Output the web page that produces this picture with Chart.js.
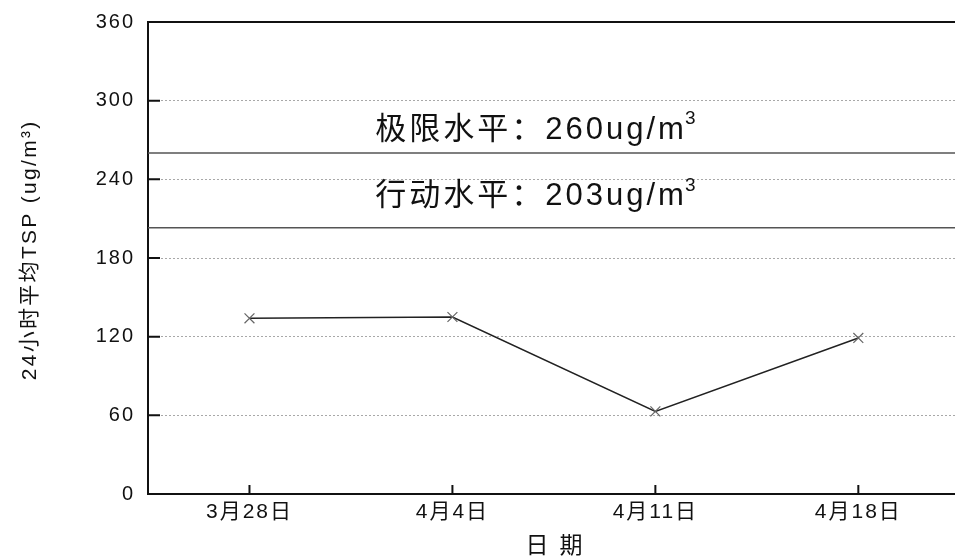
<!DOCTYPE html>
<html>
<head>
<meta charset="utf-8">
<script src="https://cdn.jsdelivr.net/npm/chart.js@4/dist/chart.umd.min.js"></script>
<style>
  html, body { margin: 0; padding: 0; overflow: hidden; background: #fff; }
  #wrap { width: 968px; height: 559px; }
</style>
</head>
<body>
<div id="wrap"><canvas id="tsp-chart"></canvas></div>
<script>
// 数据
const dates = ['3月28日', '4月4日', '4月11日', '4月18日'];
const tspValues = [134, 135, 63, 119];
const yTicks = [0, 60, 120, 180, 240, 300, 360];
const limitLevels = [260, 203];
const limitLabels = ['极限水平：260ug/m³', '行动水平：203ug/m³'];
const xTitle = '日期';
const yTitle = '24小时平均TSP (ug/m³)';

const FONT = '"Liberation Sans", "Noto Sans CJK SC", sans-serif';
const labelLift = [23, 31]; // 文字在限值线上方的距离

// 边框、向内刻度、限值线、坐标轴标题
const framePlugin = {
    id: 'frame',
    beforeDraw(chart) {
        chart.ctx.letterSpacing = '2px';
    },
    beforeDatasetsDraw(chart) {
        const { ctx, chartArea, scales } = chart;
        ctx.save();
        ctx.strokeStyle = '#555';
        ctx.lineWidth = 1.5;
        ctx.fillStyle = '#111';
        ctx.textBaseline = 'middle';
        ctx.textAlign = 'left';
        limitLevels.forEach((level, i) => {
            const y = scales.y.getPixelForValue(level);
            ctx.beginPath();
            ctx.moveTo(chartArea.left, y);
            ctx.lineTo(chartArea.right, y);
            ctx.stroke();

            // 文字，末尾的 ³ 画成上标
            let text = limitLabels[i];
            let sup = '';
            if (text.endsWith('³')) {
                text = text.slice(0, -1);
                sup = '3';
            }
            const x = chartArea.left + chartArea.width * 0.28;
            const ty = y - labelLift[i];
            ctx.letterSpacing = '3px';
            ctx.font = '31px ' + FONT;
            ctx.fillText(text, x, ty);
            const w = ctx.measureText(text).width;
            if (sup) {
                ctx.font = '19px ' + FONT;
                ctx.fillText(sup, x + w - 2, ty - 11);
            }
        });

        // x 轴标题
        ctx.letterSpacing = '11px';
        ctx.font = '23px ' + FONT;
        const tw = ctx.measureText(xTitle).width - 11;
        ctx.fillText(xTitle, (chartArea.left + chartArea.right) / 2 - tw / 2, chartArea.bottom + 53);

        // y 轴标题（竖排旋转）
        ctx.letterSpacing = '2.3px';
        ctx.font = '21px ' + FONT;
        const yw = ctx.measureText(yTitle).width - 2.3;
        ctx.translate(chartArea.left - 118, (chartArea.top + chartArea.bottom) / 2 - 7);
        ctx.rotate(-Math.PI / 2);
        ctx.fillText(yTitle, -yw / 2, 0);
        ctx.restore();
    },
    afterDraw(chart) {
        const { ctx, chartArea, scales } = chart;
        ctx.save();
        ctx.strokeStyle = '#111';
        ctx.lineWidth = 2;
        ctx.beginPath();
        ctx.moveTo(chartArea.left - 1, chartArea.top);
        ctx.lineTo(chartArea.right, chartArea.top);
        // y 轴向内刻度
        scales.y.ticks.forEach(t => {
            if (t.value === 0 || t.value === 360) return;
            const y = scales.y.getPixelForValue(t.value);
            ctx.moveTo(chartArea.left, y);
            ctx.lineTo(chartArea.left + 12, y);
        });
        // x 轴向内刻度
        dates.forEach((d, i) => {
            const x = scales.x.getPixelForValue(i);
            ctx.moveTo(x, chartArea.bottom);
            ctx.lineTo(x, chartArea.bottom - 9);
        });
        ctx.stroke();
        ctx.restore();
    }
};

new Chart(document.getElementById('tsp-chart'), {
    type: 'line',
    data: {
        labels: dates,
        datasets: [{
            data: tspValues,
            borderColor: '#222',
            borderWidth: 1.5,
            tension: 0,
            pointStyle: 'crossRot',
            pointRadius: 7,
            pointBorderColor: '#666',
            pointBorderWidth: 1.2,
            pointBackgroundColor: '#666'
        }]
    },
    options: {
        responsive: true,
        maintainAspectRatio: false,
        animation: false,
        layout: { padding: { top: 22, right: 0, left: 0, bottom: 0 } },
        plugins: {
            legend: { display: false },
            tooltip: { enabled: false }
        },
        scales: {
            x: {
                offset: true,
                afterFit: s => { s.height = 65; },
                grid: { display: false, drawTicks: false },
                border: { color: '#111', width: 2 },
                ticks: { padding: 6, color: '#111', font: { family: FONT, size: 21 } }
            },
            y: {
                min: 0,
                max: 360,
                afterBuildTicks: axis => { axis.ticks = yTicks.map(v => ({ value: v })); },
                afterFit: s => { s.width = 148; },
                grid: {
                    drawTicks: false,
                    lineWidth: 1,
                    color: c => (c.tick && (c.tick.value === 0 || c.tick.value === 360)) ? 'rgba(0,0,0,0)' : '#a8a8a8'
                },
                border: { color: '#111', width: 2, dash: [2, 2] },
                ticks: { padding: 13, color: '#111', font: { family: FONT, size: 20, lineHeight: 0.9 } }
            }
        }
    },
    plugins: [framePlugin]
});
</script>
</body>
</html>
